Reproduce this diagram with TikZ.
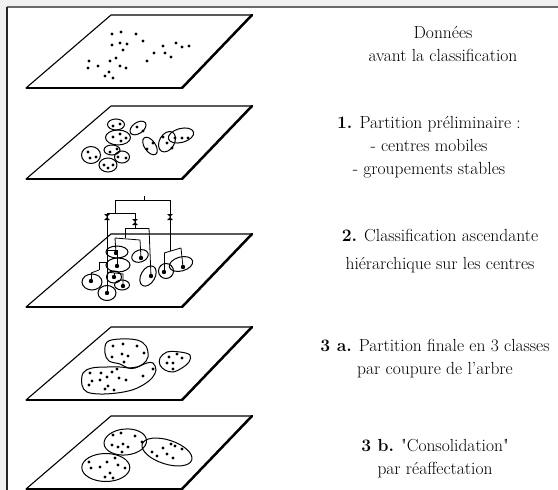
\documentclass[tikz,border=0pt]{standalone}
\usetikzlibrary{positioning}
\definecolor{framegray}{RGB}{241,241,241}
\definecolor{rulegray}{RGB}{105,105,105}

\begin{document}
\begin{tikzpicture}[
    x=1pt, y=-1pt,
    plane/.style={draw, line width=1.1pt, line join=round},
    heavyedge/.style={line width=2.5pt, line cap=round},
    blob/.style={draw, line width=1pt},
    link/.style={line width=0.8pt},
    caption/.style={align=center, font=\fontsize{17.5}{23}\selectfont}
]
    \useasboundingbox (0,0) rectangle (558,490);

    % Frame
    \fill[framegray] (0,0) rectangle (558,490);
    \fill[white] (7,7) rectangle (558,490);
    \draw[rulegray, line width=1.6pt] (7,7) -- (558,7);
    \draw[black!85, line width=1.3pt] (7,7) -- (7,490);

    % Planes
    \foreach \t in {15,106,234,327,416} {
        \draw[plane] (111,\t) -- (252,\t) -- (182,\t+73) -- (26,\t+73) -- cycle;
        \draw[line width=1.6pt] (26,\t+73) -- (182,\t+73);
        \draw[heavyedge] (252,\t) -- (182,\t+73);
    }

    % Plane 1: raw data
    \foreach \x/\y in {112/34,121/32,136/34,143/41,112/45,120/43,127/44,123/50,
                       163/46,176/43,182/47,189/46,154/53,165/53,171/57,147/61,
                       116/58,110/61,89/61,88/68,98/66,120/66,126/68,109/72,105/76,113/78}
        \fill (\x,\y) circle (1.7);

    % Plane 2: preliminary groups
    \draw[blob] (116,124.5) ellipse (8.5 and 5.5);
    \draw[blob, rotate around={35:(138,128)}] (138,128) ellipse (9 and 5.5);
    \draw[blob] (118,137.5) ellipse (12.5 and 7.5);
    \draw[blob, rotate around={15:(181,135.5)}] (181,135.5) ellipse (13 and 7);
    \draw[blob, rotate around={-30:(167,141.7)}] (167,141.7) ellipse (7.5 and 11);
    \draw[blob, rotate around={-55:(150,146)}] (150,146) ellipse (10 and 5.5);
    \draw[blob] (91,155) ellipse (9.5 and 8.5);
    \draw[blob] (112,150) ellipse (8 and 5);
    \draw[blob] (122,157) ellipse (7.5 and 6);
    \draw[blob] (108,165) ellipse (9 and 7);
    \foreach \x/\y in {113/126,120/124,137/127,143/131,113/137,120/134,126/138,121/141,
                       175/138,182/138,188/138,163/137,167/143,172/148,153/143,147/149,
                       88/152,90/158,96/157,117/149,110/152,118/157,126/158,104/165,108/168,113/165}
        \fill (\x,\y) circle (1.7);

    % Plane 3: hierarchy on the centres
    \draw[blob] (117,252) ellipse (11 and 6);
    \draw[blob, rotate around={20:(140,256)}] (140,256) ellipse (8.5 and 6);
    \draw[blob] (118,265) ellipse (12 and 7);
    \draw[blob, rotate around={-30:(148,276)}] (148,276) ellipse (7 and 11);
    \draw[blob] (166,271) ellipse (7.5 and 7.5);
    \draw[blob, rotate around={15:(181,264)}] (181,264) ellipse (12 and 7);
    \draw[blob] (92,282) ellipse (10 and 8);
    \draw[blob] (114,277) ellipse (7.5 and 6);
    \draw[blob] (122,285) ellipse (7.5 and 5);
    \draw[blob] (107,293) ellipse (9 and 7.5);
    \foreach \x/\y in {116/253,141/258,117/266,151/276,164/272,183/267,91/281,114/277,123/286,107/293}
        \fill (\x,\y) circle (2.2);

    % Tree
    \draw[link] (144,196) -- (144,200);
    \draw[link] (115,200) -- (170,200);
    \draw[link] (170,200) -- (170,251);
    \draw[link] (164,253) -- (181,248);
    \draw[link] (164,253) -- (164,272);
    \draw[link] (181,248) -- (183,267);
    \draw[link] (115,200) -- (115,213);
    \draw[link] (107,213) -- (135,213);
    \draw[link] (107,213) -- (107,293);
    \draw[link] (99,262) -- (107,262);
    \draw[link] (99,262) -- (99,270);
    \draw[link] (91,273) -- (99,270);
    \draw[link] (91,273) -- (91,281);
    \draw[link] (107,250) -- (117,250) -- (117,266);
    \draw[link] (107,272) -- (123,274) -- (123,286);
    \draw[link] (114,273) -- (114,277);
    \draw[link] (135,213) -- (135,228);
    \draw[link] (125,228) -- (149,228);
    \draw[link] (149,228) -- (151,276);
    \draw[link] (125,228) -- (125,238);
    \draw[link] (115,238) -- (140,240);
    \draw[link] (140,240) -- (141,258);
    \draw[link] (115,238) -- (116,253);

    % Cut marks
    \foreach \x/\y in {107/217,135/222,170/217}
        \fill (\x-2.8,\y-3) -- (\x+2.8,\y-3) -- (\x-2.8,\y+3) -- (\x+2.8,\y+3) -- cycle;

    % Plane 4: final partition
    \draw[blob] plot[smooth cycle, tension=0.6] coordinates {(107,342) (120,339) (137,340) (146,346) (148,357)
        (143,364) (135,368) (128,368) (120,364) (109,361) (105,353)};
    \draw[blob] plot[smooth cycle, tension=0.6] coordinates {(83,373) (92,368) (107,367) (120,367) (130,368)
        (137,367) (147,363) (153,363) (156,370) (152,378) (143,385) (132,390) (117,393) (100,394) (87,392) (82,385)};
    \draw[blob] plot[smooth cycle, tension=0.6] coordinates {(160,358) (167,352) (180,352) (190,355) (189,362)
        (182,368) (173,372) (165,370) (160,365)};
    \foreach \x/\y in {113/346,123/344,137/346,144/353,112/357,122/354,128/356,124/362,
                       90/373,101/373,112/372,117/369,92/381,100/380,107/377,119/378,126/380,
                       143/376,153/369,108/386,105/389,114/390,89/385,
                       169/357,177/354,182/358,167/363,173/363,173/369}
        \fill (\x,\y) circle (1.7);

    % Plane 5: consolidation
    \draw[blob, rotate around={5:(125.3,442)}] (125.3,442) ellipse (21.3 and 13);
    \draw[blob] (105.8,467.5) ellipse (24 and 14);
    \draw[blob, rotate around={-18:(167,452)}] (167,452) ellipse (26 and 12);
    \foreach \x/\y in {113/435,121/433,135/436,142/442,112/445,118/447,123/444,128/447,122/452,
                       89/462,91/468,100/467,107/462,115/458,118/465,125/468,110/473,105/477,113/478,
                       152/452,157/456,163/448,171/444,175/446,182/449,167/454,173/458}
        \fill (\x,\y) circle (1.7);

    % Captions
    \node[caption] (data) at (443,43.5) {Données\\avant la classification};
    \node[caption] (step1) at (429,147) {\textbf{1.} Partition préliminaire :\\- centres mobiles\\- groupements stables};
    \node[caption] (step2) at (440,251) {\textbf{2.} Classification ascendante\\[5pt]hiérarchique sur les centres};
    \node[caption] (step3a) at (435,358.5) {\textbf{3 a.} Partition finale en 3 classes\\par coupure de l'arbre};
    \node[caption] (step3b) at (435,458.5) {\textbf{3 b.} \textquotedbl Consolidation\textquotedbl\\par réaffectation};
\end{tikzpicture}
\end{document}
